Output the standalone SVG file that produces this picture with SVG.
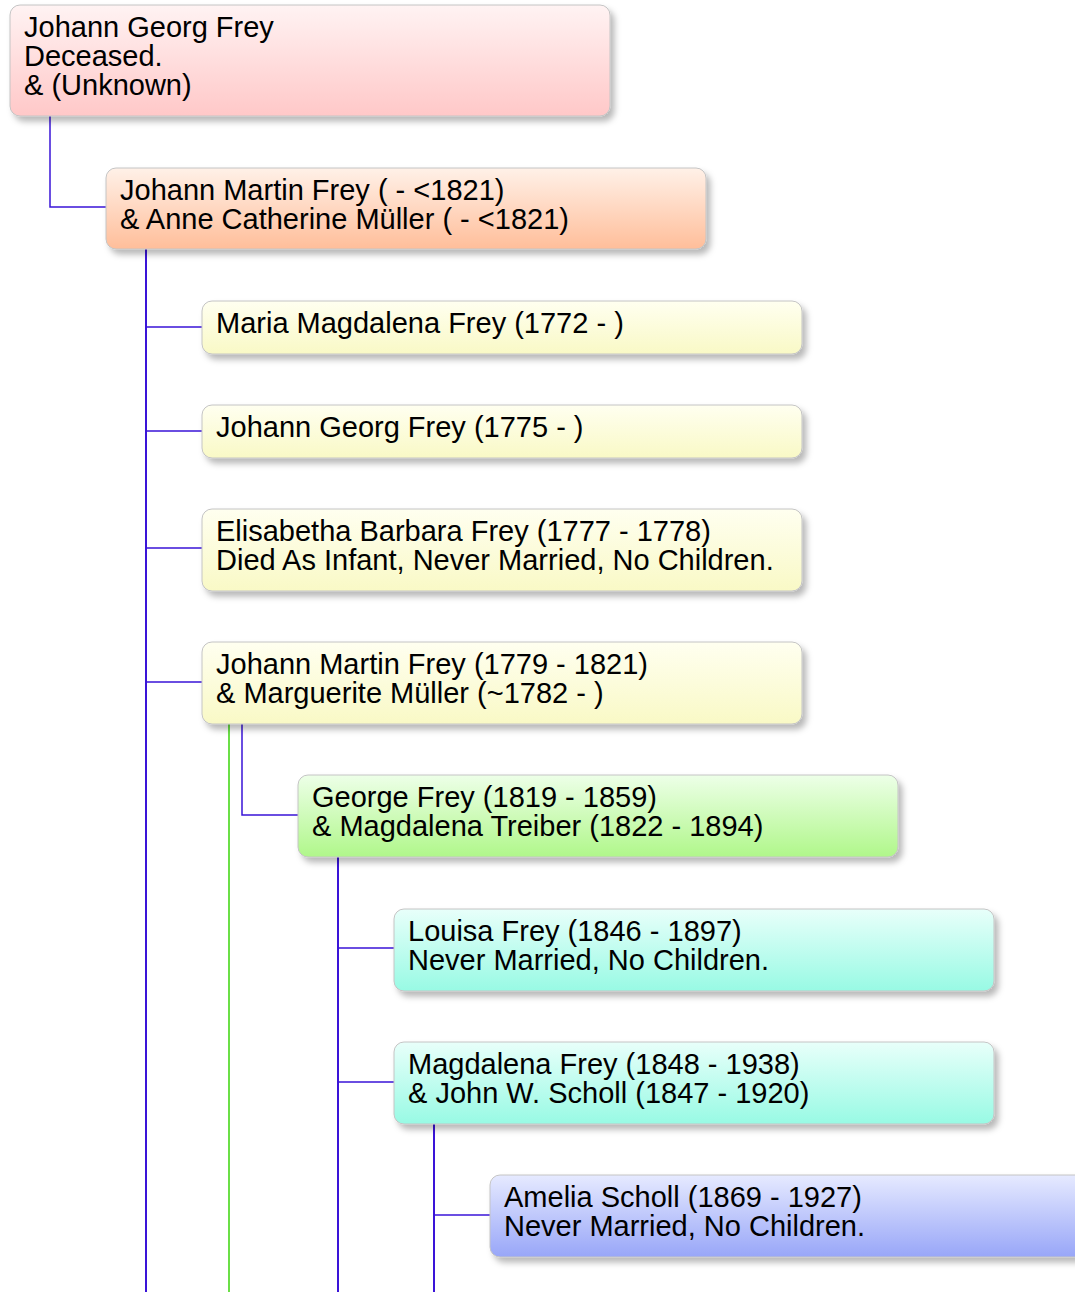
<svg xmlns="http://www.w3.org/2000/svg" width="1075" height="1292" viewBox="0 0 1075 1292">
<style>
.n{stroke:#c4c4c4;stroke-width:1;filter:url(#sh)}
.t{font-family:"Liberation Sans",Arial,sans-serif;font-size:29px;fill:#000}
.c{fill:none;stroke:#3a14d8;stroke-width:1.5}
.v{fill:none;stroke:#3a14d8;stroke-width:2}
.g{fill:none;stroke:#3ad40a;stroke-width:1.5}
</style>
<defs>
<filter id="sh" x="-5%" y="-20%" width="115%" height="150%">
<feDropShadow dx="4" dy="5" stdDeviation="3" flood-color="#000" flood-opacity="0.28"/>
</filter>
<linearGradient id="gPink" x1="0" y1="0" x2="0" y2="1"><stop offset="0" stop-color="#fff3f3"/><stop offset="1" stop-color="#ffc8c8"/></linearGradient>
<linearGradient id="gPeach" x1="0" y1="0" x2="0" y2="1"><stop offset="0" stop-color="#fff1e8"/><stop offset="1" stop-color="#ffbe9a"/></linearGradient>
<linearGradient id="gYel" x1="0" y1="0" x2="0" y2="1"><stop offset="0" stop-color="#fffff0"/><stop offset="1" stop-color="#f9f9c6"/></linearGradient>
<linearGradient id="gGrn" x1="0" y1="0" x2="0" y2="1"><stop offset="0" stop-color="#edffe8"/><stop offset="1" stop-color="#b0f78a"/></linearGradient>
<linearGradient id="gCyn" x1="0" y1="0" x2="0" y2="1"><stop offset="0" stop-color="#e8fffa"/><stop offset="1" stop-color="#98fae4"/></linearGradient>
<linearGradient id="gBlu" x1="0" y1="0" x2="0" y2="1"><stop offset="0" stop-color="#e6eaff"/><stop offset="1" stop-color="#98a6f8"/></linearGradient>
</defs>
<rect width="1075" height="1292" fill="#fff"/>
<g id="connectors">
<path class="c" d="M50,116 V207 H106"/>
<path class="v" d="M146,249 V1292"/>
<path class="c" d="M146,327 H202 M146,431 H202 M146,548 H202 M146,682 H202"/>
<path class="g" d="M229,724 V1292"/>
<path class="c" d="M242,724 V815 H298"/>
<path class="v" d="M338,857 V1292"/>
<path class="c" d="M338,948 H394 M338,1082 H394"/>
<path class="v" d="M434,1124 V1292"/>
<path class="c" d="M434,1215 H490"/>
</g>
<g id="n1">
<rect class="n" x="10" y="5" width="600" height="111" rx="10" fill="url(#gPink)"/>
<text class="t" x="24" y="37">Johann Georg Frey</text>
<text class="t" x="24" y="66">Deceased.</text>
<text class="t" x="24" y="95">&amp; (Unknown)</text>
</g>
<g id="n2">
<rect class="n" x="106" y="168" width="600" height="81" rx="10" fill="url(#gPeach)"/>
<text class="t" x="120" y="200">Johann Martin Frey ( - &lt;1821)</text>
<text class="t" x="120" y="229">&amp; Anne Catherine Müller ( - &lt;1821)</text>
</g>
<g id="n3">
<rect class="n" x="202" y="301" width="600" height="53" rx="10" fill="url(#gYel)"/>
<text class="t" x="216" y="333">Maria Magdalena Frey (1772 - )</text>
</g>
<g id="n4">
<rect class="n" x="202" y="405" width="600" height="53" rx="10" fill="url(#gYel)"/>
<text class="t" x="216" y="437">Johann Georg Frey (1775 - )</text>
</g>
<g id="n5">
<rect class="n" x="202" y="509" width="600" height="82" rx="10" fill="url(#gYel)"/>
<text class="t" x="216" y="541">Elisabetha Barbara Frey (1777 - 1778)</text>
<text class="t" x="216" y="570">Died As Infant, Never Married, No Children.</text>
</g>
<g id="n6">
<rect class="n" x="202" y="642" width="600" height="82" rx="10" fill="url(#gYel)"/>
<text class="t" x="216" y="674">Johann Martin Frey (1779 - 1821)</text>
<text class="t" x="216" y="703">&amp; Marguerite Müller (~1782 - )</text>
</g>
<g id="n7">
<rect class="n" x="298" y="775" width="600" height="82" rx="10" fill="url(#gGrn)"/>
<text class="t" x="312" y="807">George Frey (1819 - 1859)</text>
<text class="t" x="312" y="836">&amp; Magdalena Treiber (1822 - 1894)</text>
</g>
<g id="n8">
<rect class="n" x="394" y="909" width="600" height="82" rx="10" fill="url(#gCyn)"/>
<text class="t" x="408" y="941">Louisa Frey (1846 - 1897)</text>
<text class="t" x="408" y="970">Never Married, No Children.</text>
</g>
<g id="n9">
<rect class="n" x="394" y="1042" width="600" height="82" rx="10" fill="url(#gCyn)"/>
<text class="t" x="408" y="1074">Magdalena Frey (1848 - 1938)</text>
<text class="t" x="408" y="1103">&amp; John W. Scholl (1847 - 1920)</text>
</g>
<g id="n10">
<rect class="n" x="490" y="1175" width="600" height="82" rx="10" fill="url(#gBlu)"/>
<text class="t" x="504" y="1207">Amelia Scholl (1869 - 1927)</text>
<text class="t" x="504" y="1236">Never Married, No Children.</text>
</g>
</svg>
